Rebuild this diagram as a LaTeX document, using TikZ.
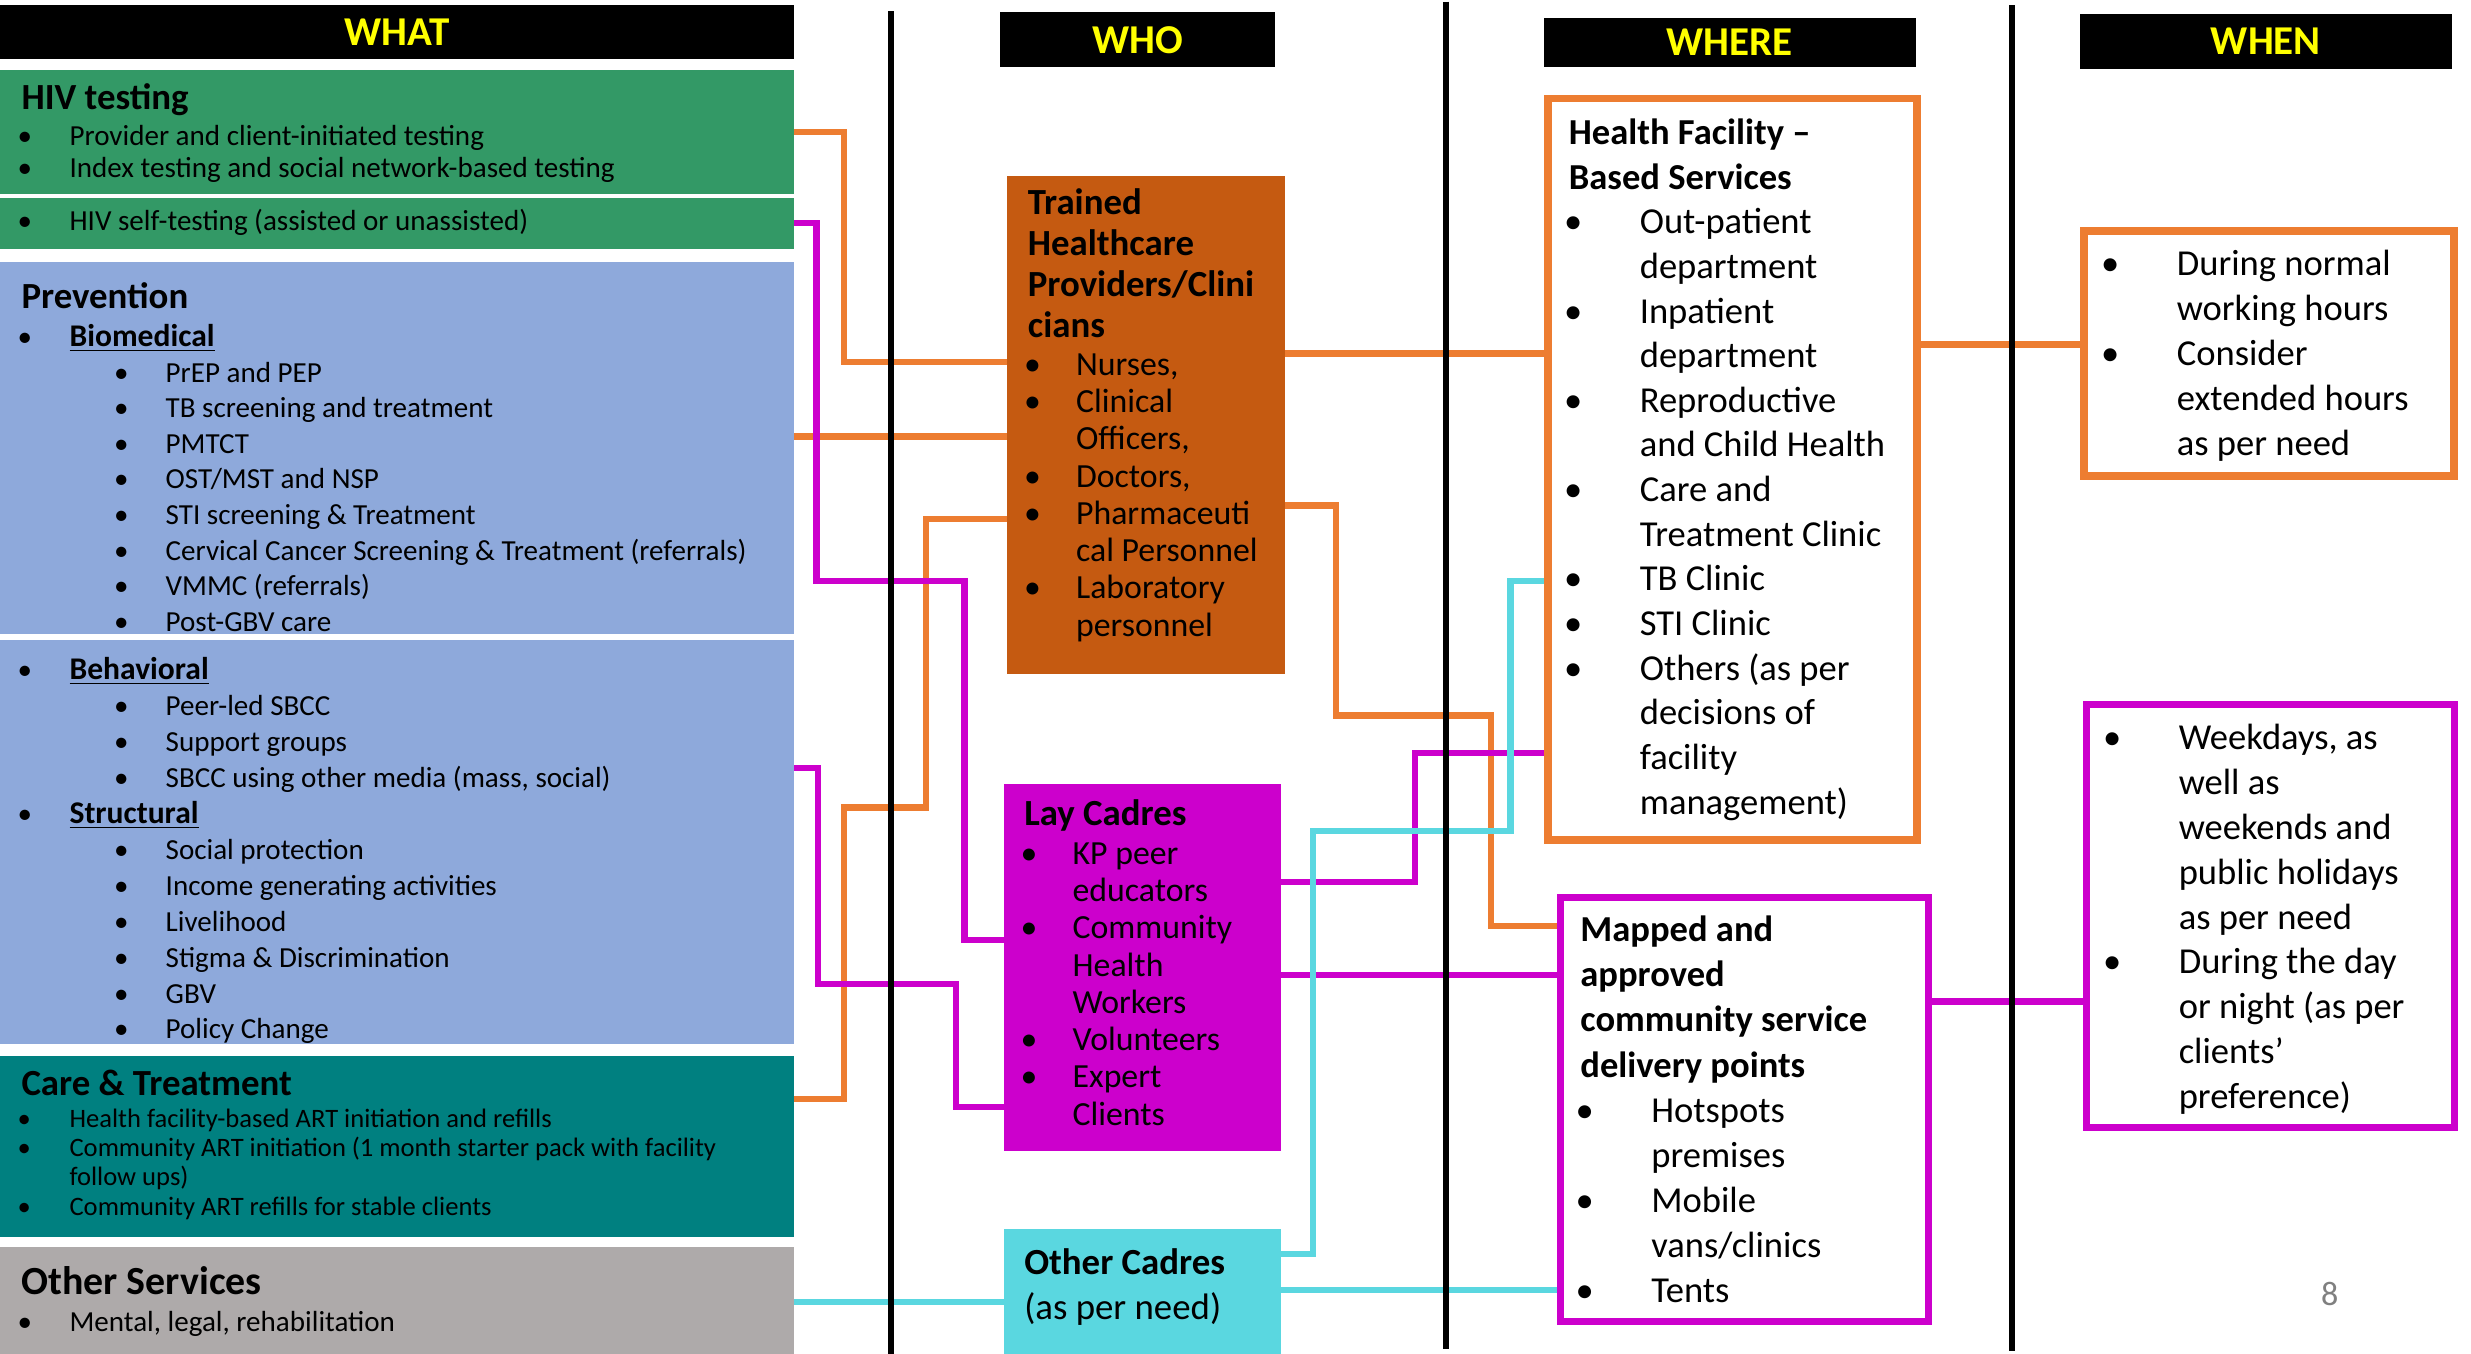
\documentclass[tikz,border=0pt]{standalone}
\usepackage{fontspec}
\setmainfont{Carlito}
\usetikzlibrary{fit}

\definecolor{hivgreen}{HTML}{339966}
\definecolor{prevblue}{HTML}{8EA9DB}
\definecolor{careteal}{HTML}{008080}
\definecolor{othgray}{HTML}{AEAAAA}
\definecolor{hcpbrown}{HTML}{C55A11}
\definecolor{laymag}{HTML}{CC00CC}
\definecolor{cadcyan}{HTML}{5AD7E0}
\definecolor{conorange}{HTML}{ED7D31}
\definecolor{hdryellow}{HTML}{FFFF00}

\newcommand{\bu}[1][6mm]{\makebox[#1][l]{\hspace*{-0.6mm}\textbullet}}
\newcommand{\ind}[1][6mm]{\hspace*{#1}}
\newcommand{\subbu}{\hspace*{12.25mm}\bu[5.95mm]}
\newcommand{\bigbu}{\bu[9mm]}
\newcommand{\bigind}{\ind[9mm]}
\newcommand{\grp}[1]{\textbf{\fontsize{11.4}{12}\selectfont\underline{#1}}}

\tikzset{
  hdr/.style={fill=black,inner sep=0pt,outer sep=0pt},
  hdrtxt/.style={inner sep=0pt,text=hdryellow,font=\bfseries\fontsize{14.8}{16}\selectfont},
  box/.style={inner sep=0pt,outer sep=0pt},
  ringbox/.style={draw,fill=white,line width=1mm,inner sep=0pt},
  txt/.style={anchor=base west,inner sep=0pt,align=left},
  ttl/.style={txt,font=\bfseries\fontsize{13.3}{14.7}\selectfont},
  wlist/.style={txt,font=\fontsize{10.5}{11.7}\selectfont},
  link/.style={line width=0.8mm},
  divline/.style={line width=0.8mm,black}
}

\begin{document}
\begin{tikzpicture}[x=0.2mm,y=-0.2mm]
  \useasboundingbox (0,0) rectangle (1568,859);

  % heads
  \node[hdr,fit={(0,3) (504,37.6)}] (what) {};
  \node[hdr,fit={(634.7,7.9) (808.9,42.5)}] (who) {};
  \node[hdr,fit={(979.7,11.3) (1215.5,42.5)}] (where) {};
  \node[hdr,fit={(1320,9) (1555.7,43.9)}] (when) {};
  \node[hdrtxt] (whatlbl) at (what.center) {WHAT};
  \node[hdrtxt] (wholbl) at (who.center) {WHO};
  \node[hdrtxt] (wherelbl) at (where.center) {WHERE};
  \node[hdrtxt] (whenlbl) at (when.center) {WHEN};

  % what (multi-line texts sit on their last baseline)
  \node[box,fill=hivgreen,fit={(0,44.7) (504,122.8)}] (hiv) {};
  \node[box,fill=hivgreen,fit={(0,125.7) (504,157.8)}] (hivst) {};
  \node[box,fill=prevblue,fit={(0,166) (504,402)}] (prev) {};
  \node[box,fill=prevblue,fit={(0,406.1) (504,662.7)}] (beh) {};
  \node[box,fill=careteal,fit={(0,670.2) (504,785.2)}] (care) {};
  \node[box,fill=othgray,fit={(0,791.3) (504,859)}] (oth) {};

  \node[ttl] (hivttl) at (13.3,69.7) {HIV testing};
  \node[wlist] (hivlist) at (13.8,112.9) {\bu Provider and client-initiated testing\\ \bu Index testing and social network-based testing};
  \node[wlist] (hivstlist) at (13.8,146.3) {\bu HIV self-testing (assisted or unassisted)};
  \node[ttl] (prevttl) at (13.3,195.5) {Prevention};
  \node[wlist,font=\fontsize{10.5}{12.86}\selectfont] (prevlist) at (13.8,400.6) {\bu\grp{Biomedical}\\
    \subbu PrEP and PEP\\
    \subbu TB screening and treatment\\
    \subbu PMTCT\\
    \subbu OST/MST and NSP\\
    \subbu STI screening \& Treatment\\
    \subbu Cervical Cancer Screening \& Treatment (referrals)\\
    \subbu VMMC (referrals)\\
    \subbu Post-GBV care};
  \node[wlist,font=\fontsize{10.5}{12.97}\selectfont] (behlist) at (13.8,659.3) {\bu\grp{Behavioral}\\
    \subbu Peer-led SBCC\\
    \subbu Support groups\\
    \subbu SBCC using other media (mass, social)\\
    \bu\grp{Structural}\\
    \subbu Social protection\\
    \subbu Income generating activities\\
    \subbu Livelihood\\
    \subbu Stigma \& Discrimination\\
    \subbu GBV\\
    \subbu Policy Change};
  \node[ttl] (carettl) at (13.3,695.3) {Care \& Treatment};
  \node[wlist,font=\fontsize{9.6}{10.58}\selectfont] (carelist) at (13.8,771.1) {\bu Health facility-based ART initiation and refills\\
    \bu Community ART initiation (1 month starter pack with facility\\
    \ind follow ups)\\
    \bu Community ART refills for stable clients};
  \node[ttl,font=\bfseries\fontsize{14.4}{15}\selectfont] (othttl) at (13.3,821.5) {Other Services};
  \node[wlist] (othlist) at (13.8,844.6) {\bu Mental, legal, rehabilitation};

  % who
  \node[box,fill=hcpbrown,fit={(639,111.9) (815.4,427.8)}] (hcp) {};
  \node[ttl] (hcpttl) at (651.9,213.9) {Trained\\Healthcare\\Providers/Clini\\cians};
  \node[txt,font=\fontsize{12.2}{13.46}\selectfont] (hcplist) at (652.5,403.7) {\bu Nurses,\\
    \bu Clinical\\
    \ind Officers,\\
    \bu Doctors,\\
    \bu Pharmaceuti\\
    \ind cal Personnel\\
    \bu Laboratory\\
    \ind personnel};
  \node[box,fill=laymag,fit={(637.3,497.5) (813.1,730.2)}] (lay) {};
  \node[ttl] (layttl) at (649.6,524) {Lay Cadres};
  \node[txt,font=\fontsize{12.2}{13.46}\selectfont] (laylist) at (650.3,714) {\bu KP peer\\
    \ind educators\\
    \bu Community\\
    \ind Health\\
    \ind Workers\\
    \bu Volunteers\\
    \bu Expert\\
    \ind Clients};
  \node[box,fill=cadcyan,fit={(637.3,780.1) (813.1,859)}] (cad) {};
  \node[txt,font=\fontsize{13.3}{16.3}\selectfont] (cadlist) at (649.6,837.6) {\textbf{Other Cadres}\\(as per need)};

  % where
  \node[ringbox,draw=conorange,fit={(982.2,62.5) (1216.5,533.2)}] (hf) {};
  \node[txt,font=\fontsize{13.2}{16.12}\selectfont] (hflist) at (995.2,516.6) {\textbf{Health Facility --}\\
    \textbf{Based Services}\\
    \bigbu Out-patient\\
    \bigind department\\
    \bigbu Inpatient\\
    \bigind department\\
    \bigbu Reproductive\\
    \bigind and Child Health\\
    \bigbu Care and\\
    \bigind Treatment Clinic\\
    \bigbu TB Clinic\\
    \bigbu STI Clinic\\
    \bigbu Others (as per\\
    \bigind decisions of\\
    \bigind facility\\
    \bigind management)};
  \node[ringbox,draw=laymag,line width=0.9mm,fit={(990.25,569.25) (1223.45,838.45)}] (cdp) {};
  \node[txt,font=\fontsize{13.2}{16.27}\selectfont] (cdplist) at (1002.5,826.4) {\textbf{Mapped and}\\
    \textbf{approved}\\
    \textbf{community service}\\
    \textbf{delivery points}\\
    \bigbu Hotspots\\
    \bigind premises\\
    \bigbu Mobile\\
    \bigind vans/clinics\\
    \bigbu Tents};

  % when
  \node[ringbox,draw=conorange,fit={(1322.5,146.4) (1557.1,302)}] (hrs) {};
  \node[txt,font=\fontsize{13.2}{16.25}\selectfont] (hrslist) at (1336,289.3) {\bigbu During normal\\
    \bigind working hours\\
    \bigbu Consider\\
    \bigind extended hours\\
    \bigind as per need};
  \node[ringbox,draw=laymag,line width=0.9mm,fit={(1323.75,446.85) (1557.35,715.65)}] (wkd) {};
  \node[txt,font=\fontsize{13.2}{16.2}\selectfont] (wkdlist) at (1337.2,703.4) {\bigbu Weekdays, as\\
    \bigind well as\\
    \bigind weekends and\\
    \bigind public holidays\\
    \bigind as per need\\
    \bigbu During the day\\
    \bigind or night (as per\\
    \bigind clients’\\
    \bigind preference)};

  \node[anchor=base,inner sep=0pt,text=gray,font=\fontsize{12.3}{13}\selectfont] (pgno) at (1478.3,828.4) {8};

  % links
  \draw[link,conorange] (hiv.east |- 0,83.6) -| (535.4,229.5) -- (hcp.west |- 0,229.5);
  \draw[link,conorange] (prev.east |- 0,277) -- (hcp.west |- 0,277);
  \draw[link,conorange] (hcp.west |- 0,329.2) -| (587.8,512.5) -| (535.4,697.5) -- (care.east |- 0,697.5);
  \draw[link,conorange] (hcp.east |- 0,224.4) -- (hf.west |- 0,224.4);
  \draw[link,conorange] (hcp.east |- 0,320.7) -| (847.8,454.1) -| (945.9,587.8) -- (cdp.west |- 0,587.8);
  \draw[link,conorange] (hf.east |- 0,218.7) -- (hrs.west |- 0,218.7);

  \draw[link,laymag] (hivst.east |- 0,141.6) -| (518.2,368.8) -| (612.1,596.5) -- (lay.west |- 0,596.5);
  \draw[link,laymag] (beh.east |- 0,487.4) -| (519.2,624.6) -| (606.6,702.4) -- (lay.west |- 0,702.4);
  \draw[link,laymag] (lay.east |- 0,559.7) -| (897.9,477.9) -- (hf.west |- 0,477.9);
  \draw[link,laymag] (lay.east |- 0,618.6) -- (cdp.west |- 0,618.6);
  \draw[link,laymag] (cdp.east |- 0,635.5) -- (wkd.west |- 0,635.5);

  \draw[link,cadcyan] (oth.east |- 0,826.2) -- (cad.west |- 0,826.2);
  \draw[link,cadcyan] (cad.east |- 0,795.6) -| (833.2,527.5) -| (958.5,368.8) -- (hf.west |- 0,368.8);
  \draw[link,cadcyan] (cad.east |- 0,818.8) -- (cdp.west |- 0,818.8);

  \draw[divline] (565.5,7) -- (565.5,859);
  \draw[divline] (917.4,1) -- (917.4,856);
  \draw[divline] (1276.8,3.4) -- (1276.8,857);
\end{tikzpicture}
\end{document}
